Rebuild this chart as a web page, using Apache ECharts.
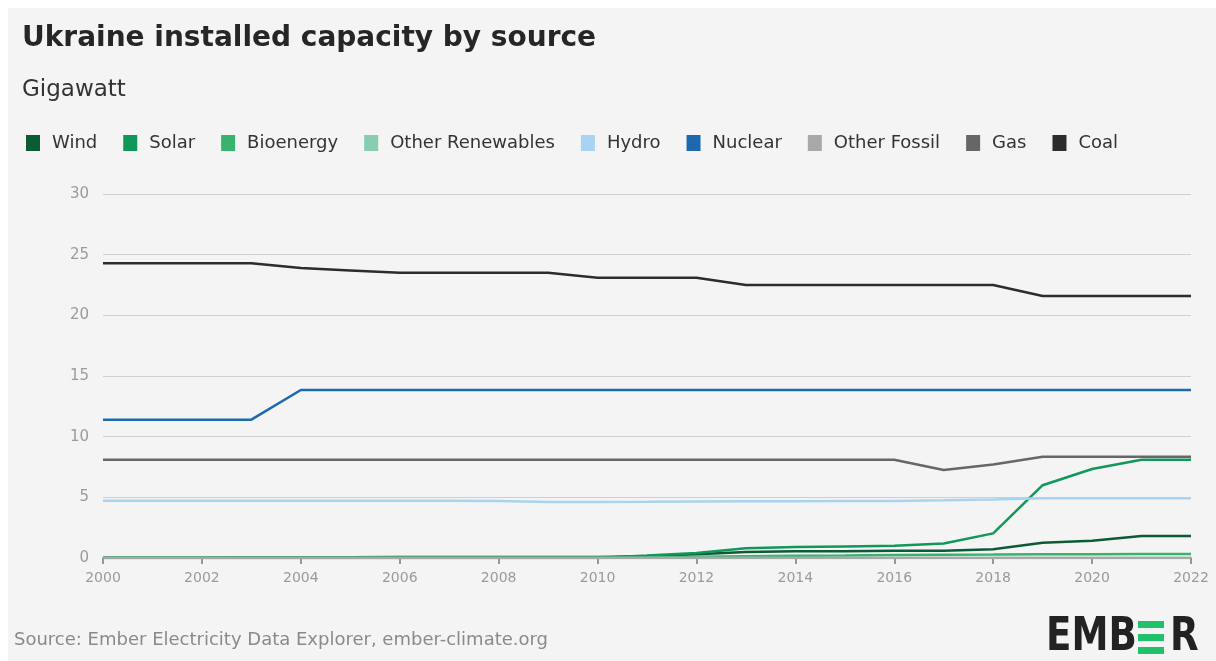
<!DOCTYPE html>
<html>
<head>
<meta charset="utf-8">
<style>
  html, body { margin: 0; padding: 0; background: #ffffff; }
  #chart { width: 1216px; height: 661px; }
</style>
<script src="https://cdn.jsdelivr.net/npm/echarts@6/dist/echarts.min.js"></script>
</head>
<body>
<div id="chart"></div>
<script>
// Ukraine installed capacity by source, GW, 2000–2022
const years = ['2000','2001','2002','2003','2004','2005','2006','2007','2008','2009','2010','2011',
               '2012','2013','2014','2015','2016','2017','2018','2019','2020','2021','2022'];

const wind       = [0.05,0.05,0.05,0.06,0.07,0.07,0.08,0.08,0.08,0.08,0.09,0.15,0.3,0.5,0.55,0.55,0.6,0.6,0.72,1.26,1.43,1.81,1.81];
const solar      = [0,0,0,0,0,0,0,0,0,0,0.01,0.2,0.42,0.8,0.9,0.95,1.0,1.2,2.03,6.0,7.34,8.1,8.1];
const bioenergy  = [0.02,0.02,0.02,0.02,0.02,0.02,0.02,0.02,0.02,0.02,0.03,0.05,0.1,0.15,0.18,0.2,0.25,0.27,0.28,0.3,0.31,0.33,0.33];
const otherRenew = [0,0,0,0,0,0,0,0,0,0,0,0,0,0,0,0,0,0,0,0,0,0,0];
const hydro      = [4.72,4.72,4.72,4.72,4.72,4.72,4.72,4.72,4.7,4.62,4.62,4.63,4.65,4.67,4.68,4.7,4.7,4.75,4.82,4.92,4.92,4.92,4.92];
const nuclear    = [11.4,11.4,11.4,11.4,13.85,13.85,13.85,13.85,13.85,13.85,13.85,13.85,13.85,13.85,13.85,13.85,13.85,13.85,13.85,13.85,13.85,13.85,13.85];
const otherFoss  = [0,0,0,0,0,0,0,0,0,0,0,0,0,0,0,0,0,0,0,0,0,0,0];
const gas        = [8.1,8.1,8.1,8.1,8.1,8.1,8.1,8.1,8.1,8.1,8.1,8.1,8.1,8.1,8.1,8.1,8.1,7.25,7.7,8.35,8.35,8.35,8.35];
const coal       = [24.3,24.3,24.3,24.3,23.9,23.7,23.5,23.5,23.5,23.5,23.1,23.1,23.1,22.5,22.5,22.5,22.5,22.5,22.5,21.6,21.6,21.6,21.6];

const yTicks = [0, 5, 10, 15, 20, 25, 30];

const seriesDefs = [
  { name: 'Wind',             data: wind,       color: '#0c5a36' },
  { name: 'Solar',            data: solar,      color: '#11975a' },
  { name: 'Bioenergy',        data: bioenergy,  color: '#38b36e' },
  { name: 'Other Renewables', data: otherRenew, color: '#88cdb0' },
  { name: 'Hydro',            data: hydro,      color: '#a7d4f2' },
  { name: 'Nuclear',          data: nuclear,    color: '#1d69b0' },
  { name: 'Other Fossil',     data: otherFoss,  color: '#a8a8a8' },
  { name: 'Gas',              data: gas,        color: '#666666' },
  { name: 'Coal',             data: coal,       color: '#2c2c2c' }
];

const FONT = '"DejaVu Sans", "Noto Sans", sans-serif';
const LOGO_FONT = 'bold 47px "Liberation Sans Narrow", "DejaVu Sans Condensed", sans-serif';

const chart = echarts.init(document.getElementById('chart'), null, { renderer: 'canvas' });

chart.setOption({
  backgroundColor: '#ffffff',
  animation: false,
  graphic: [
    { type: 'rect', left: 8, top: 8, shape: { width: 1208, height: 653 }, style: { fill: '#f4f4f4' }, z: -10 },
    // EMBER wordmark: condensed letters plus a bar-built E
    { type: 'text', x: 1046, y: 614, scaleX: 0.88, style: { text: 'EMB', font: LOGO_FONT, fill: '#222222' } },
    { type: 'rect', x: 1138, y: 621, shape: { width: 26, height: 7 }, style: { fill: '#1fc16a' } },
    { type: 'rect', x: 1138, y: 634, shape: { width: 26, height: 7 }, style: { fill: '#1fc16a' } },
    { type: 'rect', x: 1138, y: 647, shape: { width: 26, height: 7 }, style: { fill: '#1fc16a' } },
    { type: 'text', x: 1170, y: 614, scaleX: 0.88, style: { text: 'R', font: LOGO_FONT, fill: '#222222' } }
  ],
  title: [
    { text: 'Ukraine installed capacity by source', left: 22, top: 25, padding: 0,
      textStyle: { fontFamily: FONT, fontSize: 28, fontWeight: 'bold', color: '#262626' } },
    { text: 'Gigawatt', left: 22, top: 79, padding: 0,
      textStyle: { fontFamily: FONT, fontSize: 23, fontWeight: 'normal', color: '#333333' } },
    { text: 'Source: Ember Electricity Data Explorer, ember-climate.org', left: 14, top: 631, padding: 0,
      textStyle: { fontFamily: FONT, fontSize: 18, fontWeight: 'normal', color: '#8a8a8a' } }
  ],
  legend: {
    left: 26, top: 134, padding: 0,
    icon: 'rect',
    itemWidth: 14, itemHeight: 16,
    itemGap: 26,
    textStyle: { fontFamily: FONT, fontSize: 18, color: '#333333', padding: [0, 0, 0, 7] },
    data: seriesDefs.map(s => s.name)
  },
  grid: { left: 103, right: 25, top: 194, bottom: 103, containLabel: false },
  xAxis: {
    type: 'category',
    data: years,
    boundaryGap: false,
    axisLine: { show: true, lineStyle: { color: '#777777', width: 1.5 } },
    axisTick: { show: true, interval: 1, length: 6, lineStyle: { color: '#777777', width: 1.5 } },
    axisLabel: { interval: 1, fontFamily: FONT, fontSize: 14, color: '#9a9a9a', margin: 13 },
    splitLine: { show: false }
  },
  yAxis: {
    type: 'value',
    min: 0, max: 30, interval: 5,
    axisLine: { show: false },
    axisTick: { show: false },
    axisLabel: { fontFamily: FONT, fontSize: 15, color: '#9a9a9a', margin: 14,
                 formatter: v => (yTicks.indexOf(v) >= 0 ? String(v) : '') },
    splitLine: { lineStyle: { color: '#cfcfcf', width: 1.2 } }
  },
  series: seriesDefs.map(s => ({
    name: s.name,
    type: 'line',
    data: s.data,
    color: s.color,
    showSymbol: false,
    smooth: false,
    lineStyle: { width: 2.5, color: s.color },
    emphasis: { disabled: true }
  }))
});
</script>
</body>
</html>
